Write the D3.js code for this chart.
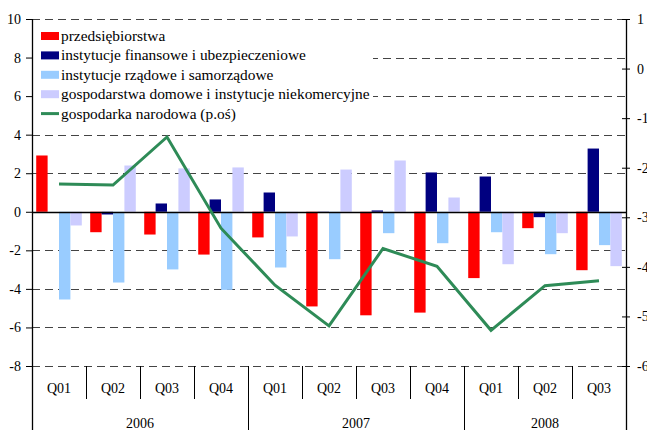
<!DOCTYPE html>
<html>
<head>
<meta charset="utf-8">
<script src="https://cdn.jsdelivr.net/npm/d3@7"></script>
<style>
  body { margin: 0; background: #fff; }
</style>
</head>
<body>
<svg id="chart" width="647" height="430" font-family="Liberation Serif, DejaVu Serif, serif"></svg>
<script>
// quarters and years
const quarters = ['Q01', 'Q02', 'Q03', 'Q04', 'Q01', 'Q02', 'Q03', 'Q04', 'Q01', 'Q02', 'Q03']
const years = [
  { label: '2006', from: 0, to: 4 },
  { label: '2007', from: 4, to: 8 },
  { label: '2008', from: 8, to: 11 }
]

// series (left axis)
const przedsiebiorstwa = [2.92, -1.06, -1.18, -2.22, -1.33, -4.91, -5.37, -5.23, -3.44, -0.85, -3.03]
const finansowe = [0.0, -0.14, 0.43, 0.64, 1.0, -0.05, 0.07, 2.04, 1.83, -0.28, 3.28]
const rzadowe = [-4.55, -3.67, -2.99, -4.05, -2.89, -2.46, -1.11, -1.63, -1.06, -2.2, -1.73]
const gospodarstwa = [-0.71, 2.4, 2.25, 2.3, -1.28, 2.19, 2.66, 0.74, -2.72, -1.11, -2.82]
// line (right axis)
const gospodarka = [-2.33, -2.35, -1.38, -3.22, -4.37, -5.19, -3.63, -3.99, -5.28, -4.38, -4.28]

const seriesNames = [
  'przedsiębiorstwa',
  'instytucje finansowe i ubezpieczeniowe',
  'instytucje rządowe i samorządowe',
  'gospodarstwa domowe i instytucje niekomercyjne'
]
const lineName = 'gospodarka narodowa (p.oś)'
const leftTicks = [10, 8, 6, 4, 2, 0, -2, -4, -6, -8]
const rightTicks = [1, 0, -1, -2, -3, -4, -5, -6]

const colors = ['#ff0000', '#000080', '#99ccff', '#ccccff']
const lineColor = '#2e8b57'
const fontFam = 'Liberation Serif, DejaVu Serif, serif'

const svg = d3.select('#chart')
const plotLeft = 32, plotRight = 626, plotTop = 19, plotBottom = 366

const idx = d3.range(quarters.length)
const x0 = d3.scaleBand().domain(idx).range([plotLeft, plotRight]).padding(0)
const x1 = d3.scaleBand().domain(d3.range(4)).range([0, x0.bandwidth()]).paddingInner(0).paddingOuter(0.37)
const yL = d3.scaleLinear().domain([-8, 10]).range([plotBottom, plotTop])
const yR = d3.scaleLinear().domain([-6, 1]).range([plotBottom, plotTop])

// grid lines
svg.append('g')
  .selectAll('line')
  .data(leftTicks.filter(d => d !== 0))
  .join('line')
  .attr('x1', plotLeft)
  .attr('x2', plotRight)
  .attr('y1', d => Math.round(yL(d)) + 0.5)
  .attr('y2', d => Math.round(yL(d)) + 0.5)
  .attr('stroke', '#444')
  .attr('stroke-dasharray', '8,5')

// legend box (covers grid)
const legend = svg.append('g')
legend.append('rect')
  .attr('x', plotLeft + 1)
  .attr('y', plotTop + 3)
  .attr('width', 340)
  .attr('height', 103)
  .attr('fill', '#fff')

const legendRows = seriesNames.map((n, i) => ({ name: n, color: colors[i], type: 'bar' }))
legendRows.push({ name: lineName, color: lineColor, type: 'line' })
const lg = legend.selectAll('g.item')
  .data(legendRows)
  .join('g')
  .attr('class', 'item')
  .attr('transform', (d, i) => `translate(41,${36 + i * 19.4})`)
lg.filter(d => d.type === 'bar').append('rect')
  .attr('x', 0).attr('y', -4).attr('width', 18).attr('height', 8)
  .attr('fill', d => d.color)
lg.filter(d => d.type === 'line').append('line')
  .attr('x1', 0).attr('x2', 18).attr('y1', 0).attr('y2', 0)
  .attr('stroke', d => d.color).attr('stroke-width', 3)
lg.append('text')
  .attr('x', 20)
  .attr('y', 0)
  .attr('dy', '0.32em')
  .attr('font-size', 15.4)
  .attr('font-family', fontFam)
  .text(d => d.name)

// bars
const allSeries = [przedsiebiorstwa, finansowe, rzadowe, gospodarstwa]
const barG = svg.append('g')
allSeries.forEach((vals, s) => {
  barG.append('g')
    .selectAll('rect')
    .data(vals)
    .join('rect')
    .attr('x', (d, i) => x0(i) + x1(s))
    .attr('width', x1.bandwidth())
    .attr('y', d => yL(Math.max(0, d)))
    .attr('height', d => Math.abs(yL(d) - yL(0)))
    .attr('fill', colors[s])
})

// zero line
svg.append('line')
  .attr('x1', plotLeft).attr('x2', plotRight)
  .attr('y1', Math.round(yL(0)) + 0.5).attr('y2', Math.round(yL(0)) + 0.5)
  .attr('stroke', '#000').attr('stroke-width', 1.3)

// line series
const line = d3.line()
  .x((d, i) => x0(i) + x0.bandwidth() / 2)
  .y(d => yR(d))
svg.append('path')
  .datum(gospodarka)
  .attr('d', line)
  .attr('fill', 'none')
  .attr('stroke', lineColor)
  .attr('stroke-width', 3)

// left axis
const axL = svg.append('g')
  .attr('transform', `translate(${plotLeft},0)`)
  .call(d3.axisLeft(yL).tickValues(leftTicks).tickSize(6).tickPadding(5).tickFormat(d => String(d)))
axL.attr('font-family', fontFam).attr('font-size', 14)
axL.select('.domain').remove()

// right axis
const axR = svg.append('g')
  .attr('transform', `translate(${plotRight},0)`)
  .call(d3.axisRight(yR).tickValues(rightTicks).tickSize(4).tickPadding(7).tickFormat(d => String(d)))
axR.attr('font-family', fontFam).attr('font-size', 14)
axR.select('.domain').remove()
axR.selectAll('.tick line').attr('x1', -4)

// vertical axis lines (extend down through category area)
svg.append('line').attr('x1', plotLeft + 0.5).attr('x2', plotLeft + 0.5).attr('y1', plotTop).attr('y2', 430).attr('stroke', '#000').attr('stroke-width', 1.3)
svg.append('line').attr('x1', plotRight + 0.5).attr('x2', plotRight + 0.5).attr('y1', plotTop).attr('y2', 430).attr('stroke', '#000').attr('stroke-width', 1.3)

// category axis: quarter separators and labels
const yearStarts = years.map(y => y.from)
const catG = svg.append('g').attr('font-family', fontFam).attr('font-size', 14)
catG.selectAll('line.sep')
  .data(idx.filter(i => i > 0))
  .join('line')
  .attr('class', 'sep')
  .attr('x1', i => Math.round(x0(i)) + 0.5)
  .attr('x2', i => Math.round(x0(i)) + 0.5)
  .attr('y1', plotBottom)
  .attr('y2', i => (yearStarts.includes(i) ? 430 : 399))
  .attr('stroke', '#000')
catG.selectAll('text.q')
  .data(quarters)
  .join('text')
  .attr('class', 'q')
  .attr('x', (d, i) => x0(i) + x0.bandwidth() / 2)
  .attr('y', 388)
  .attr('dy', '0.35em')
  .attr('text-anchor', 'middle')
  .text(d => d)
catG.selectAll('text.yr')
  .data(years)
  .join('text')
  .attr('class', 'yr')
  .attr('x', d => (x0(d.from) + x0(d.to - 1) + x0.bandwidth()) / 2)
  .attr('y', 423)
  .attr('dy', '0.35em')
  .attr('text-anchor', 'middle')
  .text(d => d.label)
</script>
</body>
</html>
